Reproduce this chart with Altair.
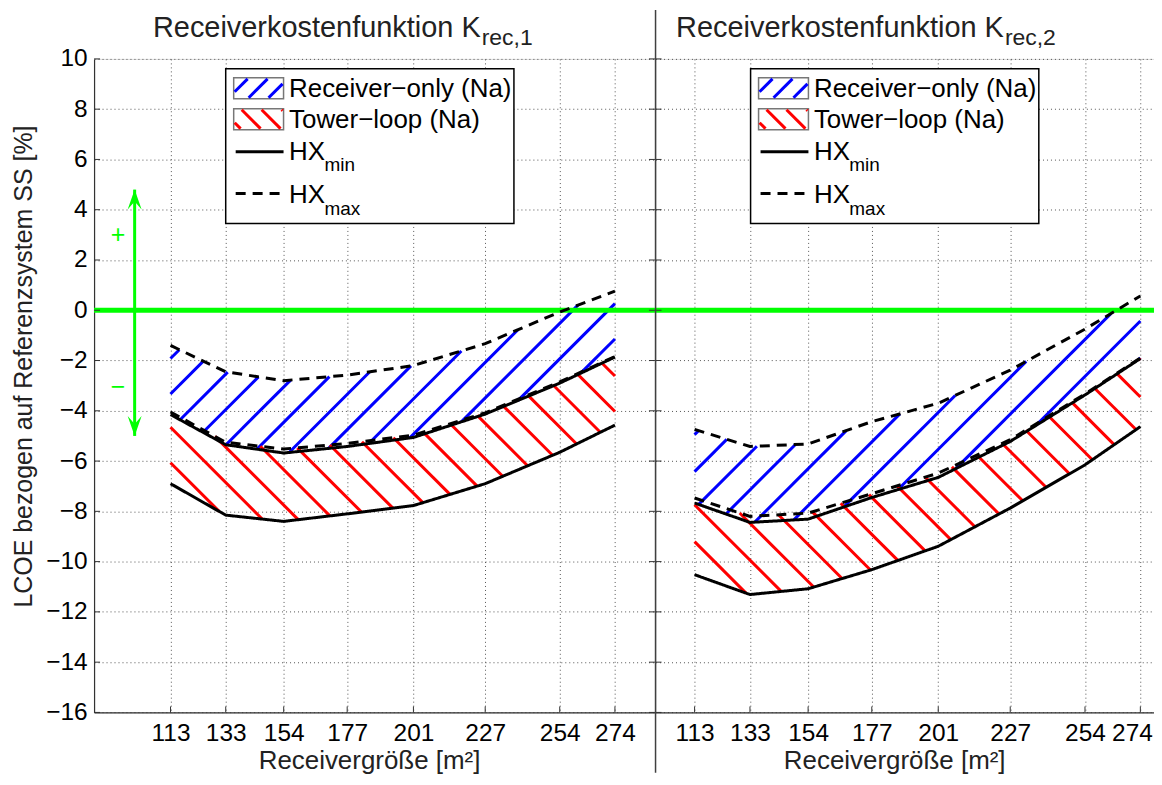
import altair as alt
import numpy as np
import pandas as pd

FONT = "Liberation Sans"

# ---------------- data ----------------
receiver_size = [113, 133, 154, 177, 201, 227, 254, 274]
y_ticks = [-16, -14, -12, -10, -8, -6, -4, -2, 0, 2, 4, 6, 8, 10]

# Receiverkostenfunktion K_rec,1
L_recv_max = [-1.40, -2.45, -2.80, -2.58, -2.20, -1.33, -0.07, 0.76]
L_recv_min = [-4.15, -5.35, -5.68, -5.42, -5.06, -4.13, -2.90, -1.86]
L_tower_max = [-4.05, -5.25, -5.52, -5.30, -4.97, -4.08, -2.85, -1.84]
L_tower_min = [-6.90, -8.15, -8.40, -8.10, -7.77, -6.90, -5.65, -4.57]

# Receiverkostenfunktion K_rec,2
R_recv_max = [-4.74, -5.42, -5.32, -4.43, -3.70, -2.38, -0.75, 0.57]
R_recv_min = [-7.67, -8.44, -8.31, -7.45, -6.65, -5.22, -3.37, -1.92]
R_tower_max = [-7.47, -8.20, -8.07, -7.30, -6.48, -5.15, -3.33, -1.90]
R_tower_min = [-10.52, -11.31, -11.08, -10.32, -9.39, -7.87, -6.15, -4.63]

arrow_x = 100
arrow_range = [-5.0, 4.8]
sign_x = 94
plus_v = 3.0
minus_v = -3.05

# ---------------- layout ----------------
W1, W2, H = 562.4, 502.5, 655.3
L_dom = [85.3, 288.5]
R_dom = [98.9, 279.9]
Y_DOM = [-16, 10]
BLUE, RED, GREEN = "#0000FF", "#FF0000", "#00FF00"
AX = "#333333"
TICK_FS = 24.5
# frame pins (outside the visible canvas; they only fix the canvas size)
PIN_L, PIN_T, PIN_R, PIN_B = 100.0, 60.0, 21.0, 80.0
PLOT_X0, PLOT_Y0 = 85.3, 49.0          # plot origin inside the svg
SVG_W, SVG_H = 1146.0, 764.0


def clip_lines(Xs, lo, hi, slope, c0, step):
    segs = []
    cl = np.concatenate([lo - slope * Xs, hi - slope * Xs])
    k0 = int(np.floor((cl.min() - c0) / step)) - 1
    k1 = int(np.ceil((cl.max() - c0) / step)) + 1
    for k in range(k0, k1 + 1):
        c = c0 + k * step
        Yl = slope * Xs + c
        inside = (Yl >= lo) & (Yl <= hi)
        if not inside.any():
            continue
        idx = np.flatnonzero(inside)
        br = np.flatnonzero(np.diff(idx) > 1)
        starts = np.r_[idx[0], idx[br + 1]]
        ends = np.r_[idx[br], idx[-1]]
        for s, e in zip(starts, ends):
            if e - s < 3:
                continue
            segs.append((Xs[s], Yl[s], Xs[e], Yl[e]))
    return segs


def hatch_df(lo_v, hi_v, dom, W, slope, c0, step):
    sx = W / (dom[1] - dom[0])
    sy = H / (Y_DOM[1] - Y_DOM[0])
    X = (np.asarray(receiver_size, float) - dom[0]) * sx
    Xs = np.linspace(X[0], X[-1], 6000)
    lo = np.interp(Xs, X, np.asarray(lo_v) * sy)
    hi = np.interp(Xs, X, np.asarray(hi_v) * sy)
    segs = clip_lines(Xs, lo, hi, slope, c0, step)
    return pd.DataFrame([dict(x=a / sx + dom[0], v=b / sy, x2=c / sx + dom[0], v2=d / sy)
                         for a, b, c, d in segs])


def swatch_df(x0, y0, x1, y1, slope, c0, step):
    Xs = np.linspace(x0, x1, 800)
    lo = np.full_like(Xs, -y1)
    hi = np.full_like(Xs, -y0)
    segs = clip_lines(Xs, lo, hi, slope, c0, step)
    return [dict(px=a, py=-b, px2=c, py2=-d) for a, b, c, d in segs]


def panel(dom, W, recv_max, recv_min, tower_max, tower_min, phases, sub, k_end,
          bx, xtitle_x, left):
    xs = alt.Scale(domain=dom, nice=False, zero=False)
    ys = alt.Scale(domain=Y_DOM, nice=False, zero=False)
    xa = dict(values=receiver_size, grid=True, gridDash=[1, 3], gridColor="#555555",
              gridWidth=1, ticks=False, labelPadding=9, labelFontSize=TICK_FS,
              domainColor=AX, domainWidth=1.2, labelFlush=False,
              title="Receivergröße [m²]", titleFontSize=26, titleFontWeight="normal",
              titleX=xtitle_x, titleY=56.7, titleBaseline="alphabetic")
    if not left:
        # last label of the right panel kept whole at the canvas edge
        xa["labelAlign"] = alt.condition("datum.value == 274", alt.value("right"),
                                         alt.value("center"))
        xa["labelOffset"] = alt.condition("datum.value == 274", alt.value(12),
                                          alt.value(0))
    x_axis = alt.Axis(**xa)
    if left:
        y_axis = alt.Axis(values=y_ticks, grid=True, gridDash=[1, 3], gridColor="#555555",
                          gridWidth=1, ticks=False, labelPadding=7, labelFontSize=TICK_FS,
                          domainColor=AX, domainWidth=1.2, labelFlush=False,
                          title="LCOE bezogen auf Referenzsystem SS [%]", titleFontSize=25,
                          titleFontWeight="normal", titlePadding=9, titleY=308)
    else:
        y_axis = alt.Axis(values=y_ticks, grid=True, gridDash=[1, 3], gridColor="#555555",
                          gridWidth=1, ticks=False, labels=False, domain=False, title=None)

    def X(f):
        return alt.X(f, type="quantitative", scale=xs, axis=x_axis)

    def Y(f):
        return alt.Y(f, type="quantitative", scale=ys, axis=y_axis)

    layers = []
    # hatching
    blue = hatch_df(recv_min, recv_max, dom, W, 1.0, phases[0], phases[2])
    red = hatch_df(tower_min, tower_max, dom, W, -1.0, phases[1], phases[2])
    for df, col in [(blue, BLUE), (red, RED)]:
        layers.append(alt.Chart(df).mark_rule(color=col, strokeWidth=3, strokeCap="butt").encode(
            x=X("x"), x2="x2", y=Y("v"), y2="v2"))

    # green zero line
    layers.append(alt.Chart(pd.DataFrame({"v": [0]})).mark_rule(color=GREEN, strokeWidth=5).encode(
        y=Y("v"), x=alt.value(0), x2=alt.value(W)))

    # curves
    rows = []
    for name, arr, style in [("recv_max", recv_max, "dashed"), ("tower_max", tower_max, "dashed"),
                             ("recv_min", recv_min, "solid"), ("tower_min", tower_min, "solid")]:
        for xv, vv in zip(receiver_size, arr):
            rows.append(dict(x=xv, v=vv, curve=name, style=style))
    layers.append(alt.Chart(pd.DataFrame(rows)).mark_line(color="black", strokeWidth=3).encode(
        x=X("x"), y=Y("v"), detail="curve:N",
        strokeDash=alt.StrokeDash("style:N", scale=alt.Scale(domain=["solid", "dashed"],
                                                             range=[[1, 0], [10, 7]]), legend=None)))

    # inward ticks
    layers.append(alt.Chart(pd.DataFrame({"x": receiver_size})).mark_rule(color=AX, strokeWidth=1).encode(
        x=X("x"), y=alt.value(H), y2=alt.value(H - 6)))
    layers.append(alt.Chart(pd.DataFrame({"v": y_ticks})).mark_rule(color=AX, strokeWidth=1).encode(
        y=Y("v"), x=alt.value(0), x2=alt.value(6)))
    if left:
        layers.append(alt.Chart(pd.DataFrame({"v": y_ticks})).mark_rule(color=AX, strokeWidth=1).encode(
            y=Y("v"), x=alt.value(W - 6), x2=alt.value(W)))

    if left:
        # green arrow
        layers.append(alt.Chart(pd.DataFrame({"x": [arrow_x], "v": [arrow_range[0]],
                                              "v2": [arrow_range[1]]})).mark_rule(
            color=GREEN, strokeWidth=3).encode(x=X("x"), y=Y("v"), y2="v2"))
        layers.append(alt.Chart(pd.DataFrame({"x": [arrow_x], "v": [arrow_range[1]]})).mark_point(
            shape="M0,0L0.7,2L0,1.2L-0.7,2Z", size=400, filled=True, color=GREEN, opacity=1,
            strokeWidth=0).encode(x=X("x"), y=Y("v")))
        layers.append(alt.Chart(pd.DataFrame({"x": [arrow_x], "v": [arrow_range[0]]})).mark_point(
            shape="M0,0L0.7,-2L0,-1.2L-0.7,-2Z", size=400, filled=True, color=GREEN, opacity=1,
            strokeWidth=0).encode(x=X("x"), y=Y("v")))
        layers.append(alt.Chart(pd.DataFrame({"x": [sign_x, sign_x], "v": [plus_v, minus_v],
                                              "t": ["+", "−"]})).mark_text(
            color=GREEN, fontSize=25, font=FONT).encode(x=X("x"), y=Y("v"), text="t:N"))

    # legend
    by = 10
    bw, bh = 289, 155
    box = pd.DataFrame([dict(px=bx, py=by, px2=bx + bw, py2=by + bh)])
    layers.append(alt.Chart(box).mark_rect(fill="white", stroke="black", strokeWidth=1.5).encode(
        x=alt.X("px:Q", scale=None, axis=None), x2="px2", y=alt.Y("py:Q", scale=None, axis=None),
        y2="py2"))
    sw = [(bx + 8, by + 9, bx + 58, by + 30), (bx + 8, by + 40, bx + 58, by + 61)]
    swdf = pd.DataFrame([dict(px=a, py=b, px2=c, py2=d) for a, b, c, d in sw])
    layers.append(alt.Chart(swdf).mark_rect(fill="white", stroke="#777777", strokeWidth=1.5).encode(
        x=alt.X("px:Q", scale=None, axis=None), x2="px2", y=alt.Y("py:Q", scale=None, axis=None),
        y2="py2"))
    a, b, c, d = sw[0]
    sb = swatch_df(a + 1, b + 1, c - 1, d - 1, 1.0, -(d - 1) - (a + 15), 20)
    a, b, c, d = sw[1]
    sr = swatch_df(a + 1, b + 1, c - 1, d - 1, -1.0, -(b + 1) + (a + 8), 20)
    for segs, col in [(sb, BLUE), (sr, RED)]:
        layers.append(alt.Chart(pd.DataFrame(segs)).mark_rule(color=col, strokeWidth=3,
                                                               strokeCap="butt").encode(
            x=alt.X("px:Q", scale=None, axis=None), x2="px2",
            y=alt.Y("py:Q", scale=None, axis=None), y2="py2"))
    ldf = pd.DataFrame([dict(px=bx + 10, py=by + 83, px2=bx + 58, py2=by + 83, s="solid"),
                        dict(px=bx + 10, py=by + 125, px2=bx + 58, py2=by + 125, s="dashed")])
    layers.append(alt.Chart(ldf).mark_rule(color="black", strokeWidth=3).encode(
        x=alt.X("px:Q", scale=None, axis=None), x2="px2", y=alt.Y("py:Q", scale=None, axis=None),
        y2="py2",
        strokeDash=alt.StrokeDash("s:N", scale=alt.Scale(domain=["solid", "dashed"],
                                                         range=[[1, 0], [10, 7]]), legend=None)))
    tdf = pd.DataFrame([
        dict(px=bx + 63.5, py=by + 20, t="Receiver−only (Na)", fs=26),
        dict(px=bx + 63.5, py=by + 51, t="Tower−loop (Na)", fs=26),
        dict(px=bx + 63.5, py=by + 83, t="HX", fs=26),
        dict(px=bx + 99, py=by + 96, t="min", fs=19),
        dict(px=bx + 63.5, py=by + 126, t="HX", fs=26),
        dict(px=bx + 99, py=by + 141, t="max", fs=19),
    ])
    layers.append(alt.Chart(tdf).mark_text(align="left", baseline="middle", font=FONT,
                                           color="black").encode(
        x=alt.X("px:Q", scale=None, axis=None), y=alt.Y("py:Q", scale=None, axis=None),
        text="t:N", size=alt.Size("fs:Q", scale=None, legend=None)))

    # panel title
    layers.append(alt.Chart(pd.DataFrame({"t": ["Receiverkostenfunktion K"]})).mark_text(
        align="right", baseline="alphabetic", font=FONT, fontSize=29, color="#222222").encode(
        x=alt.value(k_end), y=alt.value(-22), text="t:N"))
    layers.append(alt.Chart(pd.DataFrame({"t": [sub]})).mark_text(
        align="left", baseline="alphabetic", font=FONT, fontSize=23, color="#222222").encode(
        x=alt.value(k_end + 1), y=alt.value(-14), text="t:N"))

    pin = pd.DataFrame({"t": [0]})
    if left:
        layers.append(alt.Chart(pin).mark_rule(color="white", strokeWidth=0.001).encode(
            x=alt.value(-PIN_L), x2=alt.value(-PIN_L + 1), y=alt.value(300)))
    else:
        # separator line between the panels
        layers.append(alt.Chart(pin).mark_rule(color="#404040", strokeWidth=1.5).encode(
            x=alt.value(0), y=alt.value(-49), y2=alt.value(H + 60.5)))
        layers.append(alt.Chart(pin).mark_rule(color="white", strokeWidth=0.001).encode(
            x=alt.value(W + PIN_R), y=alt.value(-PIN_T), y2=alt.value(H + PIN_B)))
        layers.append(alt.Chart(pin).mark_rule(color="white", strokeWidth=0.001).encode(
            x=alt.value(W + PIN_R - 1), x2=alt.value(W + PIN_R), y=alt.value(300)))

    return alt.layer(*layers).properties(width=W, height=H)


left = panel(L_dom, W1, L_recv_max, L_recv_min, L_tower_max, L_tower_min,
             (-125.1, -40.7, 35.5), "rec,1", 387.7, 132, 275.7, True)
right = panel(R_dom, W2, R_recv_max, R_recv_min, R_tower_max, R_tower_min,
              (-200.9, -155.9, 37.0), "rec,2", 349.3, 95.3, 239.3, False)

pad_l = PLOT_X0 - PIN_L
pad_t = PLOT_Y0 - PIN_T
pad_r = SVG_W - (PLOT_X0 + W1 + W2 + PIN_R)
pad_b = SVG_H - (PLOT_Y0 + H + PIN_B)

chart = alt.hconcat(left, right, spacing=0, bounds="flush").configure_view(
    stroke=None).configure(font=FONT,
                           padding={"left": pad_l, "top": pad_t, "right": pad_r, "bottom": pad_b}
).configure_axis(labelFont=FONT, titleFont=FONT, labelColor="black", titleColor="#222222")

chart.save("out.html", embed_options={"renderer": "svg", "actions": False})
